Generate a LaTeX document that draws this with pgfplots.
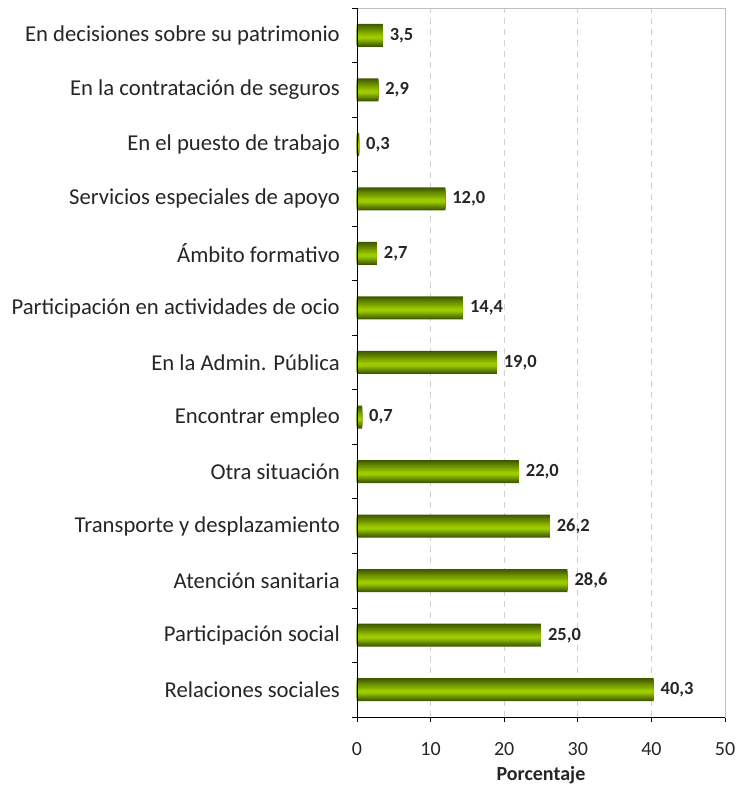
\documentclass[border=0pt]{standalone}
\usepackage{fontspec}
\setmainfont{Carlito}
\usepackage{pgfplots}
\usepackage{pgfplotstable}
\pgfplotsset{compat=1.18}
\definecolor{bardark}{HTML}{3F5800}
\definecolor{barlight}{HTML}{9CCC00}
\definecolor{gridgray}{HTML}{D0D0D0}
\definecolor{bordergray}{HTML}{C0C0C0}
\pgfplotstableread{
val pos
40.3 0
25.0 1
28.6 2
26.2 3
22.0 4
0.7 5
19.0 6
14.4 7
2.7 8
12.0 9
0.3 10
2.9 11
3.5 12
}\datatable
\begin{document}
\begin{tikzpicture}
\useasboundingbox (-357bp,-68bp) rectangle (380bp,717bp);
\begin{axis}[
  scale only axis,
  width=368bp, height=709bp,
  xmin=0, xmax=50,
  ymin=-0.5, ymax=12.5,
  xtick={0,10,...,50},
  ytick={0,...,12},
  yticklabels={Relaciones sociales,Participación social,Atención sanitaria,Transporte y desplazamiento,Otra situación,Encontrar empleo,En la Admin. Pública,Participación en actividades de ocio,Ámbito formativo,Servicios especiales de apoyo,En el puesto de trabajo,En la contratación de seguros,En decisiones sobre su patrimonio},
  minor ytick={-0.5,0.5,...,12.5},
  xtick pos=bottom, ytick pos=left,
  tick align=outside,
  y tick style={draw=none},
  minor y tick style={draw=black, line width=0.8pt},
  minor tick length=5bp,
  x tick style={black, line width=0.8pt},
  major tick length=5bp,
  xmajorgrids,
  major x grid style={gridgray, line width=0.8pt, dash pattern=on 6bp off 5bp},
  axis line style={bordergray, line width=0.8pt},
  /pgf/number format/assume math mode=true,
  yticklabel style={font=\fontsize{22.7bp}{26bp}\selectfont, inner sep=0pt, xshift=-12bp, text=black!85},
  xticklabel style={font=\fontsize{20bp}{24bp}\selectfont, inner sep=0pt, yshift=-20bp, text=black!85},
  xlabel={\textbf{Porcentaje}},
  xlabel style={font=\fontsize{20bp}{24bp}\selectfont, inner sep=0pt, yshift=-11bp, text=black!85},
  clip=false,
  every axis plot/.append style={xbar, draw=none},
]
\addplot[bar width=23bp, bar shift=0bp, fill=bardark,
  nodes near coords,
  nodes near coords style={anchor=west, xshift=3.5bp, font=\bfseries\fontsize{18.5bp}{22bp}\selectfont, text=black!85,
    /pgf/number format/.cd, fixed, fixed zerofill, precision=1, use comma, assume math mode=true},
] table[x=val, y=pos] {\datatable};
\addplot[bar width=21bp, bar shift=-0.2bp, fill=barlight!10!bardark] table[x=val, y=pos] {\datatable};
\addplot[bar width=19bp, bar shift=-0.4bp, fill=barlight!20!bardark] table[x=val, y=pos] {\datatable};
\addplot[bar width=17bp, bar shift=-0.6bp, fill=barlight!30!bardark] table[x=val, y=pos] {\datatable};
\addplot[bar width=15bp, bar shift=-0.8bp, fill=barlight!40!bardark] table[x=val, y=pos] {\datatable};
\addplot[bar width=13bp, bar shift=-1.0bp, fill=barlight!50!bardark] table[x=val, y=pos] {\datatable};
\addplot[bar width=11bp, bar shift=-1.2bp, fill=barlight!60!bardark] table[x=val, y=pos] {\datatable};
\addplot[bar width=9bp, bar shift=-1.4bp, fill=barlight!70!bardark] table[x=val, y=pos] {\datatable};
\addplot[bar width=7bp, bar shift=-1.6bp, fill=barlight!80!bardark] table[x=val, y=pos] {\datatable};
\addplot[bar width=5bp, bar shift=-1.8bp, fill=barlight!90!bardark] table[x=val, y=pos] {\datatable};
\addplot[bar width=3bp, bar shift=-2.0bp, fill=barlight] table[x=val, y=pos] {\datatable};
\draw[black, line width=0.8pt] (rel axis cs:0,1) -- (rel axis cs:0,0) -- (rel axis cs:1,0);
\end{axis}
\end{tikzpicture}
\end{document}
